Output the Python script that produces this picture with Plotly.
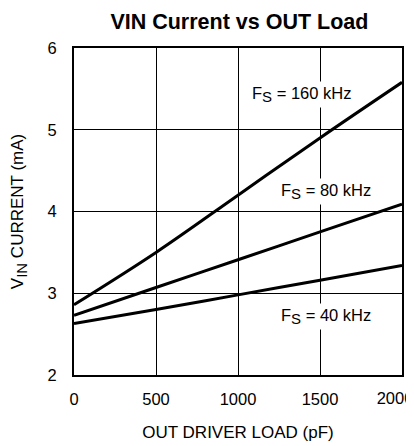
import plotly.graph_objects as go

load_pf = [0, 500, 1000, 1500, 2000]
i_160k = [2.86, 3.50, 4.20, 4.90, 5.58]
i_80k = [2.73, 3.07, 3.41, 3.75, 4.09]
i_40k = [2.63, 2.80, 2.98, 3.16, 3.34]

SUB_S = "F<sub><span style='font-size:15px'>S</span></sub>"
labels = [SUB_S + " = 160 kHz", SUB_S + " = 80 kHz", SUB_S + " = 40 kHz"]
label_x = [1390, 1537, 1537]
label_y = [5.43, 4.25, 2.72]

x_ticks = [0, 500, 1000, 1500, 2000]
x_tick_text = ["0", "500", "1000", "1500", ""]
# the last tick label sits nudged left in the reference: drawn on a twin axis
x_last_tick = [2000]
x_last_text = ["2000"]
y_ticks = [2, 3, 4, 5, 6]

FONT = "Liberation Sans, Arial, sans-serif"

# The page body has an 8px default margin; size the figure so the plot
# lands where it does in the 414x446 reference.
W, H = 406, 438

fig = go.Figure()
for ys, xa in ((i_160k, "x"), (i_80k, "x"), (i_40k, "x2")):
    fig.add_trace(go.Scatter(x=load_pf, y=ys, mode="lines", xaxis=xa,
                             line=dict(color="black", width=3),
                             line_shape="spline", showlegend=False,
                             hoverinfo="skip"))

for t, x, y in zip(labels, label_x, label_y):
    fig.add_annotation(x=x, y=y, text=t, showarrow=False,
                       bgcolor="white", borderpad=2,
                       font=dict(family=FONT, size=16.5, color="black"))

fig.update_layout(
    width=W, height=H,
    margin=dict(l=66, r=12, t=40, b=71),
    paper_bgcolor="white", plot_bgcolor="white",
    font=dict(family=FONT, size=16, color="black"),
    title=dict(text="<b>VIN Current vs OUT Load</b>", x=0.570, xanchor="center",
               y=0.970, yanchor="middle",
               font=dict(family=FONT, size=21.5, color="black")),
    xaxis2=dict(overlaying="x", matches="x", side="bottom", anchor="y",
                range=[0, 2000], tickvals=x_last_tick, ticktext=x_last_text,
                ticklabelshift=-7, ticklabeloverflow="allow",
                showgrid=False, zeroline=False, showline=False,
                ticks="outside", ticklen=8, tickcolor="rgba(0,0,0,0)",
                automargin=False, tickfont=dict(family=FONT, size=16.5)),
)
fig.update_xaxes(selector=dict(anchor="y", overlaying=None))
fig.layout.xaxis.update(range=[0, 2000], tickvals=x_ticks, ticktext=x_tick_text,
                 showgrid=True,
                 gridcolor="black", gridwidth=1, zeroline=False,
                 showline=True, linecolor="black", linewidth=2, mirror=True,
                 ticks="outside", ticklen=8, tickcolor="rgba(0,0,0,0)",
                 automargin=False,
                 title=dict(text="OUT DRIVER LOAD (pF)", standoff=19,
                            font=dict(family=FONT, size=17)),
                 tickfont=dict(family=FONT, size=16.5))
fig.update_yaxes(range=[2, 6], tickvals=y_ticks, showgrid=True,
                 gridcolor="black", gridwidth=1, zeroline=False,
                 showline=True, linecolor="black", linewidth=2, mirror=True,
                 ticks="outside", ticklen=12, tickcolor="rgba(0,0,0,0)",
                 automargin=False,
                 title=dict(text="V<sub><span style='font-size:15px'>IN</span></sub> CURRENT (mA)",
                            standoff=24, font=dict(family=FONT, size=17)),
                 tickfont=dict(family=FONT, size=16.5))

fig.write_html("out.html")
